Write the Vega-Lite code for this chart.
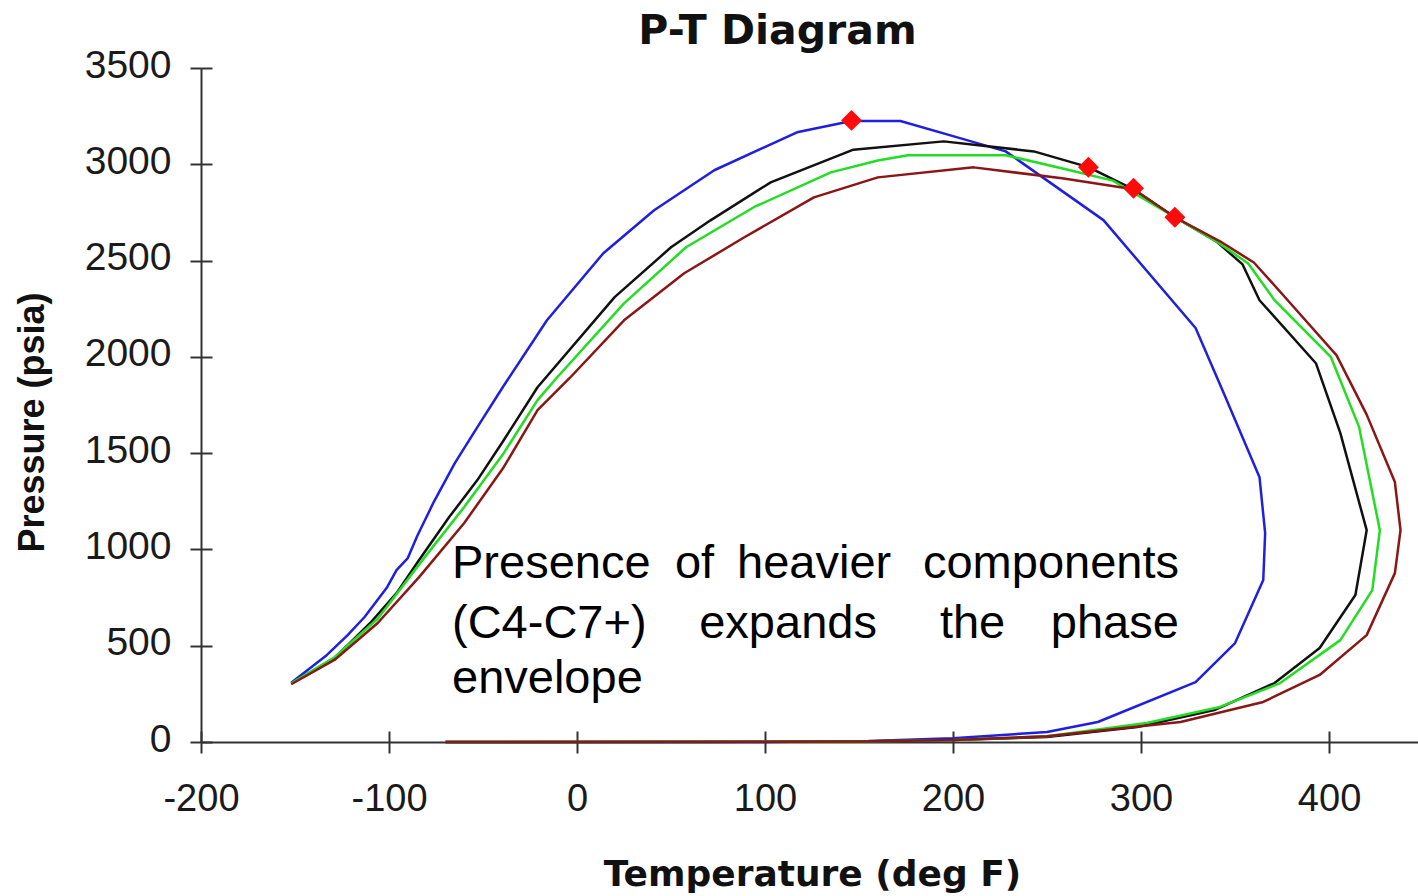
{
  "$schema": "https://vega.github.io/schema/vega-lite/v6.json",
  "width": 1217,
  "height": 674,
  "autosize": {"type": "none"},
  "padding": {"left": 201, "top": 68, "right": 0, "bottom": 154},
  "background": "white",
  "view": {"stroke": null},
  "title": {"text": "P-T Diagram", "font": "DejaVu Sans", "fontSize": 41, "fontWeight": "bold", "color": "#111", "anchor": "middle", "frame": "group", "dx": -32, "dy": 41, "baseline": "alphabetic", "offset": 2},
  "datasets": {
    "curves": [
      {"s":"blue","i":1,"T":-152,"P":308},{"s":"blue","i":2,"T":-133,"P":452},{"s":"blue","i":3,"T":-122,"P":555},{"s":"blue","i":4,"T":-113,"P":649},{"s":"blue","i":5,"T":-101,"P":804},{"s":"blue","i":6,"T":-96,"P":893},{"s":"blue","i":7,"T":-90,"P":955},{"s":"blue","i":8,"T":-85,"P":1070},{"s":"blue","i":9,"T":-76,"P":1250},{"s":"blue","i":10,"T":-65,"P":1448},{"s":"blue","i":11,"T":-53,"P":1635},{"s":"blue","i":12,"T":-39,"P":1850},{"s":"blue","i":13,"T":-16,"P":2190},{"s":"blue","i":14,"T":14,"P":2538},{"s":"blue","i":15,"T":41,"P":2761},{"s":"blue","i":16,"T":73,"P":2969},{"s":"blue","i":17,"T":117,"P":3166},{"s":"blue","i":18,"T":146,"P":3225},{"s":"blue","i":19,"T":172,"P":3225},{"s":"blue","i":20,"T":200,"P":3146},{"s":"blue","i":21,"T":228,"P":3067},{"s":"blue","i":22,"T":280,"P":2710},{"s":"blue","i":23,"T":329,"P":2150},{"s":"blue","i":24,"T":344,"P":1811},{"s":"blue","i":25,"T":363,"P":1375},{"s":"blue","i":26,"T":366,"P":1085},{"s":"blue","i":27,"T":365,"P":841},{"s":"blue","i":28,"T":350,"P":514},{"s":"blue","i":29,"T":329,"P":311},{"s":"blue","i":30,"T":277,"P":104},{"s":"blue","i":31,"T":250,"P":52},{"s":"blue","i":32,"T":200,"P":20},{"s":"blue","i":33,"T":155,"P":5},{"s":"blue","i":34,"T":100,"P":0},{"s":"blue","i":35,"T":-70,"P":0},
      {"s":"black","i":1,"T":-152,"P":305},{"s":"black","i":2,"T":-129,"P":436},{"s":"black","i":3,"T":-110,"P":618},{"s":"black","i":4,"T":-96,"P":773},{"s":"black","i":5,"T":-84,"P":945},{"s":"black","i":6,"T":-68,"P":1168},{"s":"black","i":7,"T":-53,"P":1360},{"s":"black","i":8,"T":-39,"P":1567},{"s":"black","i":9,"T":-21,"P":1842},{"s":"black","i":10,"T":20,"P":2310},{"s":"black","i":11,"T":50,"P":2569},{"s":"black","i":12,"T":71,"P":2709},{"s":"black","i":13,"T":103,"P":2906},{"s":"black","i":14,"T":147,"P":3076},{"s":"black","i":15,"T":195,"P":3119},{"s":"black","i":16,"T":243,"P":3067},{"s":"black","i":17,"T":272,"P":2985},{"s":"black","i":18,"T":296,"P":2870},{"s":"black","i":19,"T":318,"P":2725},{"s":"black","i":20,"T":340,"P":2600},{"s":"black","i":21,"T":354,"P":2480},{"s":"black","i":22,"T":363,"P":2294},{"s":"black","i":23,"T":393,"P":1967},{"s":"black","i":24,"T":406,"P":1604},{"s":"black","i":25,"T":420,"P":1100},{"s":"black","i":26,"T":414,"P":763},{"s":"black","i":27,"T":395,"P":488},{"s":"black","i":28,"T":371,"P":306},{"s":"black","i":29,"T":339,"P":166},{"s":"black","i":30,"T":298,"P":78},{"s":"black","i":31,"T":250,"P":26},{"s":"black","i":32,"T":200,"P":10},{"s":"black","i":33,"T":150,"P":2},{"s":"black","i":34,"T":-70,"P":0},
      {"s":"green","i":1,"T":-152,"P":305},{"s":"green","i":2,"T":-129,"P":440},{"s":"green","i":3,"T":-106,"P":640},{"s":"green","i":4,"T":-81,"P":960},{"s":"green","i":5,"T":-60,"P":1220},{"s":"green","i":6,"T":-39,"P":1500},{"s":"green","i":7,"T":-21,"P":1775},{"s":"green","i":8,"T":-11,"P":1889},{"s":"green","i":9,"T":25,"P":2278},{"s":"green","i":10,"T":58,"P":2569},{"s":"green","i":11,"T":94,"P":2777},{"s":"green","i":12,"T":135,"P":2958},{"s":"green","i":13,"T":160,"P":3020},{"s":"green","i":14,"T":176,"P":3047},{"s":"green","i":15,"T":228,"P":3047},{"s":"green","i":16,"T":260,"P":2974},{"s":"green","i":17,"T":285,"P":2915},{"s":"green","i":18,"T":318,"P":2725},{"s":"green","i":19,"T":340,"P":2600},{"s":"green","i":20,"T":357,"P":2485},{"s":"green","i":21,"T":371,"P":2294},{"s":"green","i":22,"T":401,"P":1998},{"s":"green","i":23,"T":416,"P":1635},{"s":"green","i":24,"T":427,"P":1100},{"s":"green","i":25,"T":423,"P":789},{"s":"green","i":26,"T":406,"P":529},{"s":"green","i":27,"T":374,"P":306},{"s":"green","i":28,"T":342,"P":182},{"s":"green","i":29,"T":303,"P":99},{"s":"green","i":30,"T":250,"P":30},{"s":"green","i":31,"T":200,"P":10},{"s":"green","i":32,"T":150,"P":2},{"s":"green","i":33,"T":-70,"P":0},
      {"s":"brown","i":1,"T":-152,"P":300},{"s":"brown","i":2,"T":-129,"P":426},{"s":"brown","i":3,"T":-106,"P":618},{"s":"brown","i":4,"T":-84,"P":856},{"s":"brown","i":5,"T":-60,"P":1137},{"s":"brown","i":6,"T":-39,"P":1427},{"s":"brown","i":7,"T":-21,"P":1723},{"s":"brown","i":8,"T":-4,"P":1889},{"s":"brown","i":9,"T":25,"P":2190},{"s":"brown","i":10,"T":57,"P":2434},{"s":"brown","i":11,"T":89,"P":2621},{"s":"brown","i":12,"T":126,"P":2828},{"s":"brown","i":13,"T":160,"P":2932},{"s":"brown","i":14,"T":211,"P":2984},{"s":"brown","i":15,"T":258,"P":2927},{"s":"brown","i":16,"T":296,"P":2870},{"s":"brown","i":17,"T":318,"P":2725},{"s":"brown","i":18,"T":342,"P":2600},{"s":"brown","i":19,"T":360,"P":2490},{"s":"brown","i":20,"T":378,"P":2294},{"s":"brown","i":21,"T":404,"P":2008},{"s":"brown","i":22,"T":420,"P":1700},{"s":"brown","i":23,"T":435,"P":1350},{"s":"brown","i":24,"T":438,"P":1100},{"s":"brown","i":25,"T":435,"P":877},{"s":"brown","i":26,"T":420,"P":555},{"s":"brown","i":27,"T":395,"P":348},{"s":"brown","i":28,"T":365,"P":208},{"s":"brown","i":29,"T":321,"P":104},{"s":"brown","i":30,"T":250,"P":30},{"s":"brown","i":31,"T":200,"P":10},{"s":"brown","i":32,"T":150,"P":2},{"s":"brown","i":33,"T":-70,"P":0}
    ],
    "critical": [
      {"T":146,"P":3228},{"T":272,"P":2985},{"T":296,"P":2875},{"T":318,"P":2725}
    ],
    "note": [
      {"w":"Presence","T":-66.5,"P":851},{"w":"of","T":52.1,"P":851},{"w":"heavier","T":85.1,"P":851},{"w":"components","T":184,"P":851},
      {"w":"(C4-C7+)","T":-66.5,"P":540},{"w":"expands","T":65,"P":540},{"w":"the","T":193,"P":540},{"w":"phase","T":252,"P":540},
      {"w":"envelope","T":-66.5,"P":254}
    ]
  },
  "resolve": {"axis": {"x": "independent", "y": "independent"}},
  "layer": [
    {
      "data": {"name": "note"},
      "mark": {"type": "text", "align": "left", "baseline": "alphabetic", "font": "Liberation Sans", "fontSize": 47, "color": "#000"},
      "encoding": {
        "x": {"field": "T", "type": "quantitative", "scale": {"domain": [-200, 447.3], "nice": false, "zero": false}, "axis": null},
        "y": {"field": "P", "type": "quantitative", "scale": {"domain": [0, 3500], "nice": false, "zero": false}, "axis": null},
        "text": {"field": "w"}
      }
    },
    {
      "data": {"name": "curves"},
      "mark": {"type": "line", "strokeWidth": 2.5, "strokeJoin": "round", "clip": false},
      "encoding": {
        "x": {"field": "T", "type": "quantitative", "scale": {"domain": [-200, 447.3], "nice": false, "zero": false},
          "axis": {"orient": "bottom", "values": [-200, -100, 0, 100, 200, 300, 400], "labelExpr": "datum.value < 0 ? '-' + abs(datum.value) : '' + datum.value", "grid": false, "domainColor": "#333", "domainWidth": 2, "tickColor": "#333", "tickWidth": 2, "tickSize": 11, "labelFont": "Liberation Sans", "labelFontSize": 38, "labelColor": "#1a1a1a", "labelBaseline": "alphabetic", "labelPadding": 57, "labelFlush": false, "labelOverlap": false, "labelBound": false,
            "title": "Temperature (deg F)", "titleFont": "DejaVu Sans", "titleFontSize": 36, "titleFontWeight": "bold", "titleColor": "#111", "titleX": 611, "titleY": 143, "titleAlign": "center", "titleBaseline": "alphabetic", "titleAnchor": null}},
        "y": {"field": "P", "type": "quantitative", "scale": {"domain": [0, 3500], "nice": false, "zero": false},
          "axis": {"orient": "left", "values": [0, 500, 1000, 1500, 2000, 2500, 3000, 3500], "labelExpr": "'' + datum.value", "grid": false, "domainColor": "#333", "domainWidth": 2, "tickColor": "#333", "tickWidth": 2, "tickSize": 11, "labelFont": "Liberation Sans", "labelFontSize": 39, "labelColor": "#1a1a1a", "labelBaseline": "alphabetic", "labelOffset": 9, "labelPadding": 19, "labelFlush": false, "labelOverlap": false, "labelBound": false,
            "title": "Pressure (psia)", "titleFont": "Liberation Sans", "titleFontSize": 36, "titleFontWeight": "bold", "titleColor": "#111", "titleX": -158, "titleY": 354, "titleAngle": -90, "titleAlign": "center", "titleBaseline": "alphabetic"}},
        "color": {"field": "s", "type": "nominal", "scale": {"domain": ["blue", "black", "green", "brown"], "range": ["#1f1fe0", "#111111", "#22dd22", "#8a1616"]}, "legend": null},
        "order": {"field": "i", "type": "quantitative"}
      }
    },
    {
      "data": {"name": "critical"},
      "mark": {"type": "point", "shape": "diamond", "filled": true, "size": 440, "color": "#ff0a0a", "opacity": 1},
      "encoding": {
        "x": {"field": "T", "type": "quantitative", "scale": {"domain": [-200, 447.3], "nice": false, "zero": false},
          "axis": {"orient": "bottom", "values": [-200, -100, 0, 100, 200, 300, 400], "grid": false, "domain": false, "labels": false, "tickColor": "#333", "tickWidth": 2, "tickSize": 11, "offset": -11, "title": null}},
        "y": {"field": "P", "type": "quantitative", "scale": {"domain": [0, 3500], "nice": false, "zero": false},
          "axis": {"orient": "left", "values": [0, 500, 1000, 1500, 2000, 2500, 3000, 3500], "grid": false, "domain": false, "labels": false, "tickColor": "#333", "tickWidth": 2, "tickSize": 11, "offset": -11, "title": null}}
      }
    }
  ]
}
